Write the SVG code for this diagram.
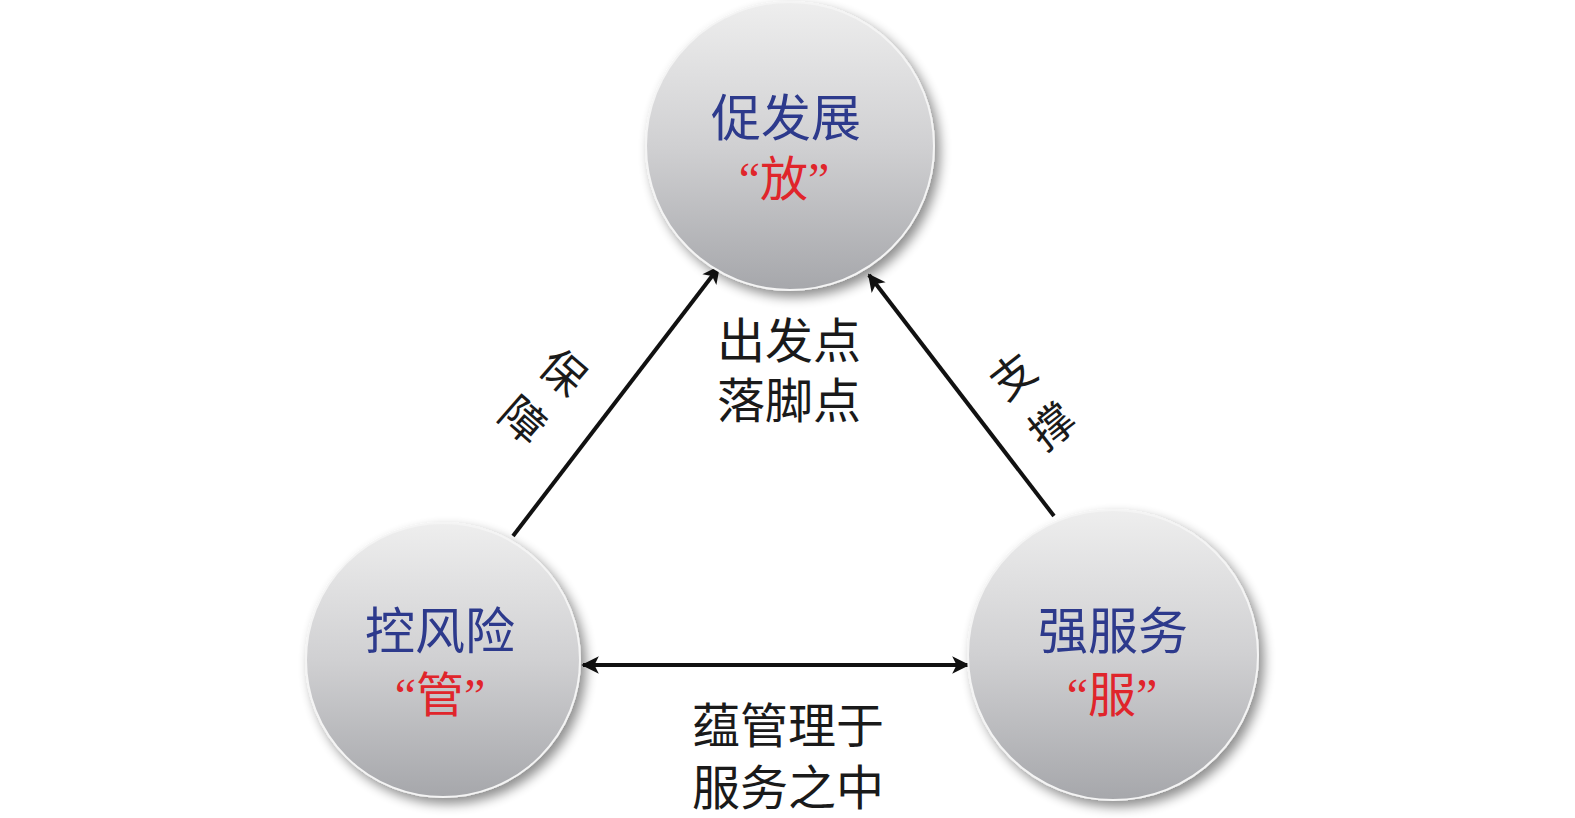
<svg xmlns="http://www.w3.org/2000/svg" width="1575" height="818" viewBox="0 0 1575 818">
<defs>
<linearGradient id="ball" x1="0" y1="0" x2="0" y2="1">
<stop offset="0" stop-color="#eeeeee"/>
<stop offset="0.5" stop-color="#d0d0d2"/>
<stop offset="1" stop-color="#a6a7ab"/>
</linearGradient>
<filter id="shadow" x="-20%" y="-20%" width="140%" height="140%">
<feGaussianBlur in="SourceAlpha" stdDeviation="6"/>
<feOffset dx="5" dy="6" result="b"/>
<feComponentTransfer><feFuncA type="linear" slope="0.45"/></feComponentTransfer>
<feMerge><feMergeNode/><feMergeNode in="SourceGraphic"/></feMerge>
</filter>
<marker id="ah" viewBox="0 0 10 10" refX="9" refY="5" markerWidth="5" markerHeight="4.4" orient="auto-start-reverse" markerUnits="strokeWidth">
<path d="M0,0 L10,5 L0,10 L2.5,5 Z" fill="#111"/>
</marker>
</defs>
<style>
.ball{fill:url(#ball);stroke:#f4f4f4;stroke-width:2;filter:url(#shadow)}
.t{font-family:"Liberation Serif","Noto Sans CJK SC",serif;text-anchor:middle}
.blue{fill:#2d3a8c;font-size:50px}
.red{fill:#e0252b;font-size:48px}
.blk{fill:#1a1a1a;font-size:48px}
.lbl{fill:#1a1a1a;font-size:44px}
.conn{stroke:#111;stroke-width:4;fill:none}
</style>
<rect width="1575" height="818" fill="#ffffff"/>
<g id="connectors">
<line class="conn" x1="513" y1="536" x2="719" y2="267" marker-end="url(#ah)"/>
<line class="conn" x1="1054" y1="516" x2="869" y2="275" marker-end="url(#ah)"/>
<line class="conn" x1="583" y1="665" x2="968" y2="665" marker-start="url(#ah)" marker-end="url(#ah)"/>
</g>
<g id="node-top">
<circle class="ball" cx="790" cy="146" r="144"/>
<text class="t blue" x="786" y="136">促发展</text>
<text class="t red" x="784" y="196">“放”</text>
</g>
<g id="node-left">
<circle class="ball" cx="443" cy="660" r="137"/>
<text class="t blue" x="440" y="649">控风险</text>
<text class="t red" x="440" y="712">“管”</text>
</g>
<g id="node-right">
<circle class="ball" cx="1113" cy="655" r="145"/>
<text class="t blue" x="1113" y="649">强服务</text>
<text class="t red" x="1112" y="712">“服”</text>
</g>
<g id="label-top">
<text class="t blk" x="789" y="358">出发点</text>
<text class="t blk" x="789" y="418">落脚点</text>
</g>
<g id="label-bottom">
<text class="t blk" x="788" y="743">蕴管理于</text>
<text class="t blk" x="788" y="805">服务之中</text>
</g>
<g id="label-left">
<text class="t lbl" transform="translate(563,372) rotate(41)" y="16">保</text>
<text class="t lbl" transform="translate(523,420) rotate(41)" y="16">障</text>
</g>
<g id="label-right">
<text class="t lbl" transform="translate(1013,376) rotate(-38)" y="16">支</text>
<text class="t lbl" transform="translate(1052,426) rotate(-38)" y="16">撑</text>
</g>
</svg>
